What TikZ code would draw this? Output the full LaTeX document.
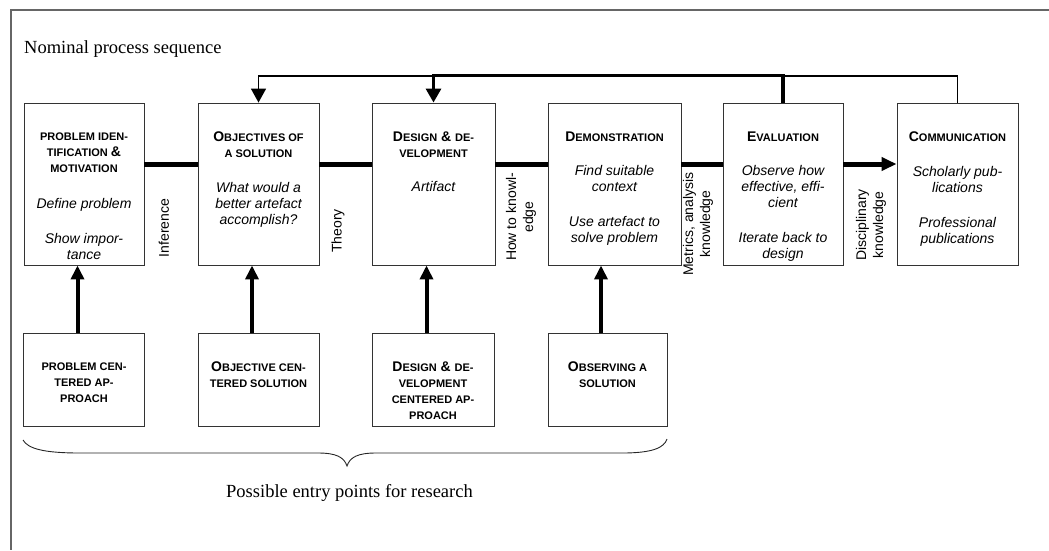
\documentclass[tikz,border=0pt]{standalone}
\usepackage{fontspec}
\setmainfont{Liberation Serif}
\setsansfont{Liberation Sans}
\usetikzlibrary{arrows.meta}
\newcommand\BC[1]{{\bfseries\fontsize{14}{16}\selectfont #1}}
\newcommand\SC[1]{{\bfseries\fontsize{11}{16}\selectfont #1}}
\newcommand\IT[1]{{\itshape #1}}
\begin{document}
\begin{tikzpicture}[x=1pt,y=-1pt,
  box/.style={draw=black!80, line width=0.9pt, fill=white, minimum width=#1, inner sep=0pt},
  topbox/.style={box=#1, minimum height=162pt},
  botbox/.style={box=#1, minimum height=93pt},
  txt/.style={font=\sffamily\fontsize{14}{16}\selectfont, align=center, inner sep=0pt, anchor=north},
  lab/.style={font=\sffamily\fontsize{14}{17}\selectfont, align=center, inner sep=0pt, rotate=90},
  mainline/.style={line width=5pt},
  fbthin/.style={line width=1.6pt, -{Triangle[length=14pt,width=15pt]}},
  fbthick/.style={line width=3.2pt, -{Triangle[length=14pt,width=15pt]}},
  uparrow/.style={line width=4pt, -{Triangle[length=14pt,width=13pt]}},
  frameline/.style={draw=black!60, line width=1.2pt},
  brace/.style={draw=black!85, line width=0.9pt},
  serif/.style={font=\rmfamily\fontsize{18.5}{22}\selectfont, inner sep=0pt}
]
\useasboundingbox (0,0) rectangle (1049,550);
\draw[frameline] (1049,10) -- (11,10) -- (11,550);

\node[serif, anchor=base west] (title) at (24,53) {Nominal process sequence};

% top row
\node[topbox=120pt] (b1) at (84,184) {};
\node[topbox=121pt] (b2) at (258.5,184) {};
\node[topbox=123pt] (b3) at (433.5,184) {};
\node[topbox=133pt] (b4) at (614.5,184) {};
\node[topbox=120pt] (b5) at (783,184) {};
\node[topbox=121pt] (b6) at (957.5,184) {};

% bottom row
\node[botbox=121pt] (c1) at (84,379.5) {};
\node[botbox=121pt] (c2) at (258.5,379.5) {};
\node[botbox=122pt] (c3) at (433,379.5) {};
\node[botbox=119pt] (c4) at (607.5,379.5) {};

% texts in top boxes
\node[txt] (t1) at ([yshift=-30pt]b1.north) {\SC{PROBLEM IDEN-}\\\SC{TIFICATION \BC{\&}}\\\SC{MOTIVATION}\\[20pt]\IT{Define problem}\\[19pt]\IT{Show impor-}\\\IT{tance}};
\node[txt] (t2) at ([yshift=-29pt]b2.north) {\BC{O}\SC{BJECTIVES OF}\\\SC{A SOLUTION}\\[18.5pt]\IT{What would a}\\\IT{better artefact}\\\IT{accomplish?}};
\node[txt] (t3) at ([yshift=-29pt]b3.north) {\BC{D}\SC{ESIGN} \BC{\&} \SC{DE-}\\\SC{VELOPMENT}\\[18.5pt]\IT{Artifact}};
\node[txt] (t4) at ([yshift=-29pt]b4.north) {\BC{D}\SC{EMONSTRATION}\\[18.5pt]\IT{Find suitable}\\\IT{context}\\[19pt]\IT{Use artefact to}\\\IT{solve problem}};
\node[txt] (t5) at ([yshift=-29pt]b5.north) {\BC{E}\SC{VALUATION}\\[18.5pt]\IT{Observe how}\\\IT{effective, effi-}\\\IT{cient}\\[19pt]\IT{Iterate back to}\\\IT{design}};
\node[txt] (t6) at ([yshift=-29pt]b6.north) {\BC{C}\SC{OMMUNICATION}\\[18.5pt]\IT{Scholarly pub-}\\\IT{lications}\\[19pt]\IT{Professional}\\\IT{publications}};

% texts in bottom boxes
\node[txt] (s1) at ([yshift=-30pt]c1.north) {\SC{PROBLEM CEN-}\\\SC{TERED AP-}\\\SC{PROACH}};
\node[txt] (s2) at ([yshift=-29pt]c2.north) {\BC{O}\SC{BJECTIVE CEN-}\\\SC{TERED SOLUTION}};
\node[txt] (s3) at ([yshift=-29pt]c3.north) {\BC{D}\SC{ESIGN} \BC{\&} \SC{DE-}\\\SC{VELOPMENT}\\\SC{CENTERED AP-}\\\SC{PROACH}};
\node[txt] (s4) at ([yshift=-29pt]c4.north) {\BC{O}\SC{BSERVING A}\\\SC{SOLUTION}};

% main sequence line
\draw[mainline] ([yshift=20pt]b1.east) -- ([yshift=20pt]b2.west);
\draw[mainline] ([yshift=20pt]b2.east) -- ([yshift=20pt]b3.west);
\draw[mainline] ([yshift=20pt]b3.east) -- ([yshift=20pt]b4.west);
\draw[mainline] ([yshift=20pt]b4.east) -- ([yshift=20pt]b5.west);
\draw[mainline, -{Triangle[length=15pt,width=13pt]}] ([yshift=20pt]b5.east) -- ([yshift=20pt]b6.west);

% rotated labels
\node[lab] (l1) at (164,228) {Inference};
\node[lab] (l2) at (338,231) {Theory};
\node[lab] (l3) at (521,217) {How to knowl-\\edge};
\node[lab] (l4) at (698,224) {Metrics, analysis\\knowledge};
\node[lab] (l5) at (871,225) {Disciplinary\\knowledge};

% feedback lines
\coordinate (ythin) at (0,76);
\coordinate (ythick) at (0,75.5);
\draw[fbthin] (b6.north) -- (b6.north |- ythin) -- (b2.north |- ythin) -- (b2.north);
\draw[fbthick] (b5.north) -- (b5.north |- ythick) -- (b3.north |- ythick) -- (b3.north);

% entry arrows
\draw[uparrow] ([xshift=-6.5pt]c1.north) -- ([xshift=-6.5pt]c1.north |- b1.south);
\draw[uparrow] ([xshift=-6.5pt]c2.north) -- ([xshift=-6.5pt]c2.north |- b2.south);
\draw[uparrow] ([xshift=-6.5pt]c3.north) -- ([xshift=-6.5pt]c3.north |- b3.south);
\draw[uparrow] ([xshift=-6.5pt]c4.north) -- ([xshift=-6.5pt]c4.north |- b4.south);

% brace
\draw[brace] (23,440) .. controls (28,449) and (45,453) .. (80,453) -- (318,453) .. controls (336,453) and (344,457) .. (347,466) .. controls (350,457) and (358,453) .. (376,453) -- (622,453) .. controls (652,453) and (664,448) .. (667,439);
\node[serif, anchor=base] (entry) at (349.5,497) {Possible entry points for research};
\end{tikzpicture}
\end{document}
